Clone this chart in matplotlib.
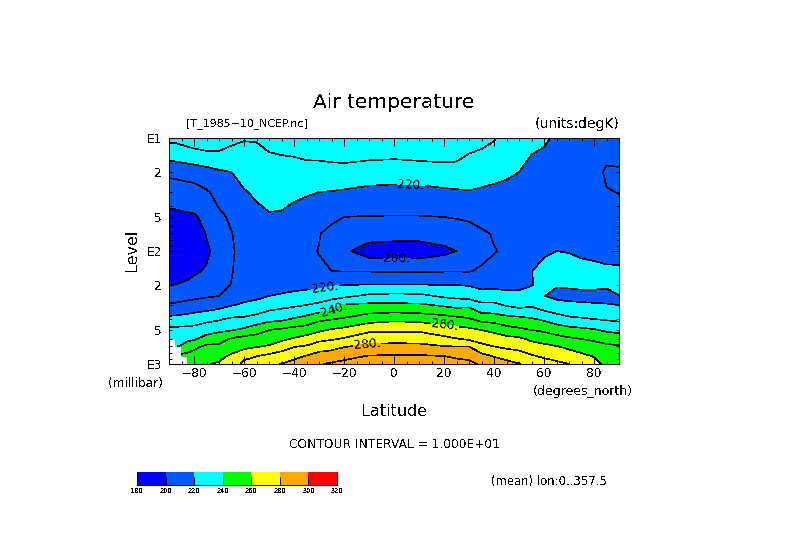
import numpy as np
import matplotlib
matplotlib.use("Agg")
import matplotlib.pyplot as plt
from matplotlib.colors import ListedColormap, BoundaryNorm

nan = float("nan")
LATS = [-90, -87.5, -85, -82.5, -80, -75, -70, -65, -60, -55, -50, -45, -40, -35, -30, -25, -20, -10, 0,
        10, 20, 25, 30, 35, 40, 45, 50, 55, 60, 65, 70, 75, 80, 85, 90]
LEVELS = [10, 20, 30, 50, 70, 100, 150, 200, 250, 300, 400, 500, 600, 700, 850, 925, 1000]

t_m90 = [232, 212, 204.5, 197, 193, 192, 195, 200, 206, 211, 223, 232.5, 238, nan, nan, nan, nan]
t_m875 = [232, 212.3, 204.7, 197.3, 193, 192, 195.3, 200.2, 206.5, 211.2, 223.5, 233, 237, 239.5, nan, nan, nan]
t_m85 = [233, 213, 205, 198, 194, 192.5, 196, 201, 207, 212, 224, 233, 237, 241, 253, nan, nan]
t_m825 = [234, 213.5, 205.5, 198.3, 194, 192.5, 197, 202, 207.5, 212.8, 225, 233, 238, 245, 253, 254.5, 256]
t_m80 = [235, 214, 206, 198.7, 194, 192.5, 198.5, 203.5, 208, 213.5, 226, 233, 238.7, 247.8, 254, 256, 258]
t_m75 = [236, 216, 209, 203, 200.5, 198.5, 201, 205.5, 209, 215, 227.5, 236, 244, 252, 256, 258, 259.5]
t_m70 = [235, 218.5, 213, 208, 205, 203.5, 205, 207, 210, 217, 229, 238, 246.5, 252, 257.5, 259.5, 261]
t_m65 = [232, 220, 216, 211.5, 209.7, 209, 209.5, 210.3, 212.5, 219.5, 231.5, 239.5, 251, 255.5, 261.5, 263, 265]
t_m60 = [230.5, 223, 219.3, 216, 214, 213, 214, 215.5, 218, 221, 232, 242, 254, 258, 266, 270, 272]
t_m55 = [230.5, 225, 221.5, 217, 215, 214.5, 215, 216, 218, 223, 234, 246.5, 254, 259.5, 269.7, 272.5, 275]
t_m50 = [232, 226, 223, 219, 217, 216, 216.5, 217.5, 220, 226, 237, 250, 256, 261, 272.5, 275, 277]
t_m45 = [232.5, 226.5, 223.5, 218.5, 216.5, 215.5, 215.7, 217, 221, 227.5, 238, 252, 258, 266, 274.5, 277, 280.5]
t_m40 = [233.5, 226, 221.5, 217, 215.5, 215, 215, 216.5, 223, 228.5, 241, 254, 261, 269.5, 277.5, 280.5, 283]
t_m35 = [236, 225.5, 220.7, 216, 213, 212.5, 213, 217, 224.5, 230, 244, 255, 264, 271, 280.5, 284, 286.5]
t_m30 = [237, 225, 220, 214, 210.5, 209.6, 212, 217.5, 225, 232, 248, 258.5, 267, 276, 283.5, 287, 289.5]
t_m25 = [238, 225.5, 219.7, 212, 207, 205.5, 210, 219, 227, 235, 249.5, 261, 269, 277, 285, 288.5, 291]
t_m20 = [239, 225.5, 219, 210, 205, 201.5, 209.5, 220, 228, 241, 251, 263, 271, 279.5, 287, 290, 292]
t_m10 = [237.5, 224.5, 217.5, 209.5, 203.5, 196, 209.5, 220.5, 232, 242, 256, 268, 276.5, 282, 290.5, 292.5, 295]
t_0 = [237, 224, 217, 209.5, 203, 195.5, 209, 220.5, 233, 242, 258, 268.5, 276.5, 283, 291, 294, 296]
t_p10 = [238, 224.5, 217, 209.5, 203, 195.5, 209, 220.5, 232.5, 241.5, 257, 268.5, 276.5, 282.5, 291, 294, 296]
t_p20 = [239, 225, 218.5, 210, 204, 198, 209.5, 220, 228.5, 238.5, 255, 265, 272.5, 280.5, 290, 292, 294]
t_p25 = [238, 225, 219, 210.5, 205.5, 200, 209.5, 220, 227.5, 237, 253, 264, 270.5, 280, 288.5, 291, 293]
t_p30 = [233, 225, 219.5, 211, 207, 206, 209.5, 219.5, 226, 238, 251, 262.5, 268.5, 280, 287.5, 290, 292]
t_p35 = [232, 224, 218.5, 212, 209, 208, 211, 217, 225, 232, 247, 260, 266, 273, 283, 287, 289]
t_p40 = [230.5, 223, 217.5, 213, 210.5, 209.7, 212, 217.5, 225, 232, 246, 258, 264.5, 270, 279.5, 282, 284]
t_p45 = [227, 221.5, 217, 213, 211, 211, 213.5, 218, 222.5, 229, 244, 254, 263.5, 268, 277.5, 280, 282]
t_p50 = [224, 220, 216, 213, 212, 213, 215, 218, 222.5, 227, 243, 252, 262, 267, 274.5, 277, 280.5]
t_p55 = [222, 217, 214, 212, 212.5, 214, 219.8, 219.8, 222.5, 228.5, 241, 250, 258, 264.5, 271, 274, 277]
t_p60 = [221, 216, 212.5, 212, 214, 219, 222.5, 221.5, 220.2, 225, 238.5, 248.5, 256, 262.5, 268.5, 271.5, 274]
t_p65 = [219, 215, 212, 212.5, 215, 220, 223, 220.5, 218, 223, 235, 246, 253.5, 260.5, 266.5, 269.5, 272]
t_p70 = [217, 213.5, 212, 213, 216, 219.7, 223, 221, 217.5, 222, 232, 244, 251.5, 258, 265, 267.5, 270]
t_p75 = [215.5, 213, 212, 213.5, 216, 218.5, 223, 222, 217, 221.5, 231, 242.5, 250, 256, 262, 264, 266]
t_p80 = [214.5, 212.5, 212, 214, 216.5, 217.5, 223, 222, 217, 221, 230, 241, 248.5, 254, 259.5, 261, 262]
t_p85 = [213, 209, 210.4, 213.5, 215.5, 217.5, 221.5, 221, 217.5, 220.5, 229, 238.5, 246.5, 252, 256.5, 257.5, 258.5]
t_p90 = [212.5, 209.4, 209.8, 213, 215.5, 218, 221, 221.5, 219.9, 219.9, 228, 237.5, 245, 251, 255, 256.5, 257.5]

FILL_LEVELS = [180, 200, 220, 240, 260, 280, 300, 320]
FILL_COLORS = ["#0000ff", "#0058ff", "#00ffff", "#00ff00", "#ffff00", "#ffa800", "#ff0000"]
PLAIN_LEVELS = [190, 210, 230, 250, 270, 290, 300]
LABEL_LEVELS = [200, 220, 240, 260, 280]
LABEL_SPOTS = [(6.8, 25.0), (-27.6, 212.0), (1.2, 113.0), (-24.4, 319.0), (20.4, 433.0), (-10.8, 665.0)]

plt.rcParams["text.antialiased"] = False
plt.rcParams["font.family"] = "DejaVu Sans"
LW = 0.72
CLW = 0.45

W, H = 789, 558
fig = plt.figure(figsize=(W / 100, H / 100), dpi=100, facecolor="white")


def px_axes(x0, x1, y0, y1):
    return fig.add_axes([x0 / W, 1 - y1 / H, (x1 - x0) / W, (y1 - y0) / H])


def px_text(x, y, s, size, ha="left", rotation=0):
    fig.text(x / W, 1 - y / H, s, fontsize=size, ha=ha, va="center", rotation=rotation, color="black")


ax = px_axes(169, 619, 138, 364)
ax.set_yscale("log")
T = np.ma.masked_invalid(np.array([t_m90, t_m875, t_m85, t_m825, t_m80, t_m75, t_m70, t_m65, t_m60, t_m55, t_m50,
                                   t_m45, t_m40, t_m35, t_m30, t_m25, t_m20, t_m10, t_0, t_p10, t_p20, t_p25,
                                   t_p30, t_p35, t_p40, t_p45, t_p50, t_p55, t_p60, t_p65, t_p70, t_p75, t_p80,
                                   t_p85, t_p90]).T)
cmap = ListedColormap(FILL_COLORS)
norm = BoundaryNorm(FILL_LEVELS, cmap.N)
cf = ax.contourf(LATS, LEVELS, T, levels=FILL_LEVELS, cmap=cmap, norm=norm, corner_mask=False, antialiased=False)
ax.contour(LATS, LEVELS, T, levels=PLAIN_LEVELS, colors="black", linewidths=CLW, corner_mask=False, antialiased=False)
cs = ax.contour(LATS, LEVELS, T, levels=LABEL_LEVELS, colors="black", linewidths=CLW, corner_mask=False, antialiased=False)
ax.set_xlim(-90, 90)
ax.set_ylim(1000, 10)
ax.clabel(cs, manual=LABEL_SPOTS, fmt="%d.", fontsize=8.7, inline=True, inline_spacing=1)

ax.set_xticks(range(-80, 81, 20))
ax.set_xticks(range(-90, 91, 5), minor=True)
ax.set_yticks([10, 100, 1000], ["E1", "E2", "E3"])
minor_ticks = [m * d for d in (10, 100) for m in range(2, 10)]
ax.set_yticks(minor_ticks, [str(m) if m in (2, 5) else "" for d in (10, 100) for m in range(2, 10)], minor=True)
ax.tick_params(axis="both", which="major", direction="in", top=True, right=True, length=5.5, width=LW, labelsize=8.7, color="black")
ax.tick_params(axis="both", which="minor", direction="in", top=True, right=True, length=2.5, width=LW, labelsize=8.7, color="black")
ax.tick_params(axis="x", which="major", pad=2.5)
ax.tick_params(axis="y", which="both", pad=5)
for s in ax.spines.values():
    s.set_linewidth(LW)

px_text(394, 102, "Air temperature", 14.5, ha="center")
px_text(186, 124, "[T_1985\u221210_NCEP.nc]", 7.9)
px_text(619, 124, "(units:degK)", 10, ha="right")
px_text(108, 383, "(millibar)", 8.7)
px_text(533, 391, "(degrees_north)", 9)
px_text(132, 250, "Level", 11.5, ha="center", rotation=90)
px_text(394, 411, "Latitude", 11.5, ha="center")
px_text(289, 444, "CONTOUR INTERVAL = 1.000E+01", 8.8)
px_text(491, 481, "(mean) lon:0..357.5", 8.4)

cax = px_axes(137, 337, 472, 485)
cb = fig.colorbar(cf, cax=cax, orientation="horizontal", ticks=FILL_LEVELS, spacing="uniform")
cb.ax.tick_params(direction="in", length=5.5, width=LW, labelsize=4.8, pad=2, color="black")
cb.ax.set_xticklabels([str(v) for v in FILL_LEVELS])
cb.outline.set_visible(False)
for side in ("left", "bottom", "right"):
    cax.spines[side].set_visible(True)
    cax.spines[side].set_linewidth(LW)

fig.savefig("out.png", dpi=100, facecolor="white")
